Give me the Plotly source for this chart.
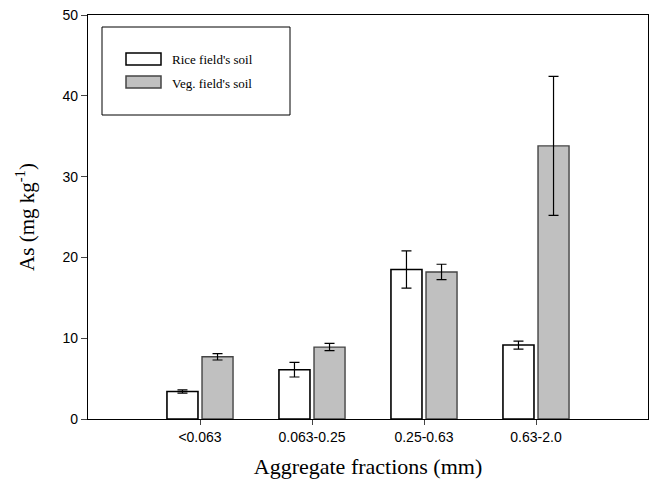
import plotly.graph_objects as go

categories = ["<0.063", "0.063-0.25", "0.25-0.63", "0.63-2.0"]
rice_values = [3.4, 6.1, 18.5, 9.15]
rice_errors = [0.2, 0.9, 2.3, 0.5]
veg_values = [7.7, 8.9, 18.2, 33.8]
veg_errors = [0.4, 0.45, 0.95, 8.6]
series_names = ["Rice field's soil", "Veg. field's soil"]
y_ticks = [0, 10, 20, 30, 40, 50]

x_idx = list(range(len(categories)))

fig = go.Figure()
fig.add_trace(go.Bar(
    x=x_idx, y=rice_values, width=0.277, offset=-0.295,
    marker=dict(color="white", line=dict(color="black", width=1.6)),
    error_y=dict(type="data", array=rice_errors, color="black", thickness=1.2, width=5),
    showlegend=False, name=series_names[0]))
fig.add_trace(go.Bar(
    x=x_idx, y=veg_values, width=0.277, offset=0.018,
    marker=dict(color="#c0c0c0", line=dict(color="#444444", width=1.4)),
    error_y=dict(type="data", array=veg_errors, color="black", thickness=1.2, width=5),
    showlegend=False, name=series_names[1]))

# manual legend
W, H = 654, 486
L, R, T, B = 88, 6, 15, 67
pw, ph = W - L - R, H - T - B
def px(x):
    return (x - L) / pw
def py(y):
    return 1 - (y - T) / ph

shapes = [
    dict(type="rect", xref="paper", yref="paper", x0=px(102), x1=px(290), y0=py(115), y1=py(27),
         line=dict(color="black", width=1), fillcolor="white", layer="above"),
    dict(type="rect", xref="paper", yref="paper", x0=px(126), x1=px(161), y0=py(65), y1=py(53),
         line=dict(color="black", width=1.5), fillcolor="white", layer="above"),
    dict(type="rect", xref="paper", yref="paper", x0=px(126), x1=px(161), y0=py(88), y1=py(76),
         line=dict(color="#444444", width=1.5), fillcolor="#c0c0c0", layer="above"),
]
annotations = [
    dict(xref="paper", yref="paper", x=px(170), y=py(60), text=series_names[0], showarrow=False,
         xanchor="left", yanchor="middle", font=dict(family="Liberation Serif", size=13, color="black")),
    dict(xref="paper", yref="paper", x=px(170), y=py(83), text=series_names[1], showarrow=False,
         xanchor="left", yanchor="middle", font=dict(family="Liberation Serif", size=13, color="black")),
]

fig.update_layout(
    width=W, height=H,
    margin=dict(l=L, r=R, t=T, b=B),
    plot_bgcolor="white", paper_bgcolor="white",
    shapes=shapes, annotations=annotations,
    showlegend=False,
    xaxis=dict(
        range=[-1, 4], tickmode="array", tickvals=x_idx, ticktext=categories,
        showline=True, linecolor="black", linewidth=1.2, mirror=True,
        ticks="outside", ticklen=5, tickcolor="#444", showgrid=False, zeroline=False,
        tickfont=dict(family="Liberation Sans", size=14, color="black"),
        title=dict(text="Aggregate fractions (mm)", standoff=14,
                   font=dict(family="Liberation Serif", size=22, color="black")),
    ),
    yaxis=dict(
        range=[0, 50], tickmode="array", tickvals=y_ticks,
        showline=True, linecolor="black", linewidth=1.2, mirror=True,
        ticks="outside", ticklen=6, tickcolor="#444", showgrid=False, zeroline=False,
        tickfont=dict(family="Liberation Sans", size=14, color="black"),
        title=dict(text="As (mg kg<sup>-1</sup>)", standoff=22,
                   font=dict(family="Liberation Serif", size=21, color="black")),
    ),
)

fig.write_html("out.html")
